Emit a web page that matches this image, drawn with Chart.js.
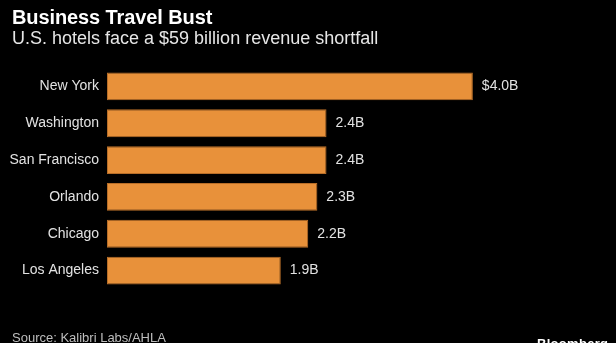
<!DOCTYPE html>
<html>
<head>
<meta charset="utf-8">
<script src="https://cdn.jsdelivr.net/npm/chart.js@4/dist/chart.umd.min.js"></script>
<style>
  html, body { margin: 0; padding: 0; background: #000; }
  #wrap { position: relative; width: 616px; height: 343px; overflow: hidden; background: #000; }
  #chart { position: absolute; left: 0; top: 0; }
  .title { position: absolute; left: 12px; top: 6px; color: #fff; font: bold 20px "Liberation Sans", sans-serif; letter-spacing: -0.1px; }
  .subtitle { position: absolute; left: 12px; top: 28px; color: #e6e6e6; font: 18px "Liberation Sans", sans-serif; }
  .source { position: absolute; left: 12px; top: 330px; color: #bdbdbd; font: 13px "Liberation Sans", sans-serif; }
  .logo { position: absolute; left: 537px; top: 336px; color: #fff; font: bold 13px "Liberation Sans", sans-serif; letter-spacing: 0.3px; }
</style>
</head>
<body>
<div id="wrap">
  <canvas id="chart" width="616" height="343"></canvas>
  <div class="title">Business Travel Bust</div>
  <div class="subtitle">U.S. hotels face a $59 billion revenue shortfall</div>
  <div class="source">Source: Kalibri Labs/AHLA</div>
  <div class="logo">Bloomberg</div>
</div>
<script>
// revenue shortfall by city, billions of dollars
const cities = ["New York", "Washington", "San Francisco", "Orlando", "Chicago", "Los Angeles"];
const shortfall = [4.0, 2.4, 2.4, 2.3, 2.2, 1.9];

const barColor = "#e8913a";
const textColor = "#e2e2e2";

// value text at the end of each bar; the first one carries the units
const barValueLabels = {
  id: "barValueLabels",
  afterDatasetsDraw(chart) {
    const ctx = chart.ctx;
    const meta = chart.getDatasetMeta(0);
    ctx.save();
    ctx.fillStyle = textColor;
    ctx.font = "14px 'Liberation Sans', sans-serif";
    ctx.textAlign = "left";
    ctx.textBaseline = "middle";
    meta.data.forEach((bar, i) => {
      const v = shortfall[i].toFixed(1) + "B";
      ctx.fillText(i === 0 ? "$" + v : v, bar.x + 9, bar.y);
    });
    ctx.restore();
  },
};

const ctx = document.getElementById("chart");
new Chart(ctx, {
  type: "bar",
  data: {
    labels: cities,
    datasets: [
      {
        data: shortfall,
        backgroundColor: barColor,
        borderColor: "#b86e28",
        borderWidth: 1,
        borderSkipped: false,
        barPercentage: 0.757,
        categoryPercentage: 1,
      },
    ],
  },
  options: {
    indexAxis: "y",
    responsive: false,
    animation: false,
    events: [],
    layout: {
      padding: { left: 0, right: 16, top: 68, bottom: 54 },
    },
    plugins: {
      legend: { display: false },
      tooltip: { enabled: false },
    },
    scales: {
      x: {
        display: false,
        min: 0,
        max: 5.39,
      },
      y: {
        afterFit(scale) {
          scale.width = 107;
        },
        border: { display: false },
        grid: { display: false, drawTicks: false },
        ticks: {
          padding: 8,
          color: textColor,
          font: { family: "'Liberation Sans', sans-serif", size: 14 },
        },
      },
    },
  },
  plugins: [barValueLabels],
});
</script>
</body>
</html>
